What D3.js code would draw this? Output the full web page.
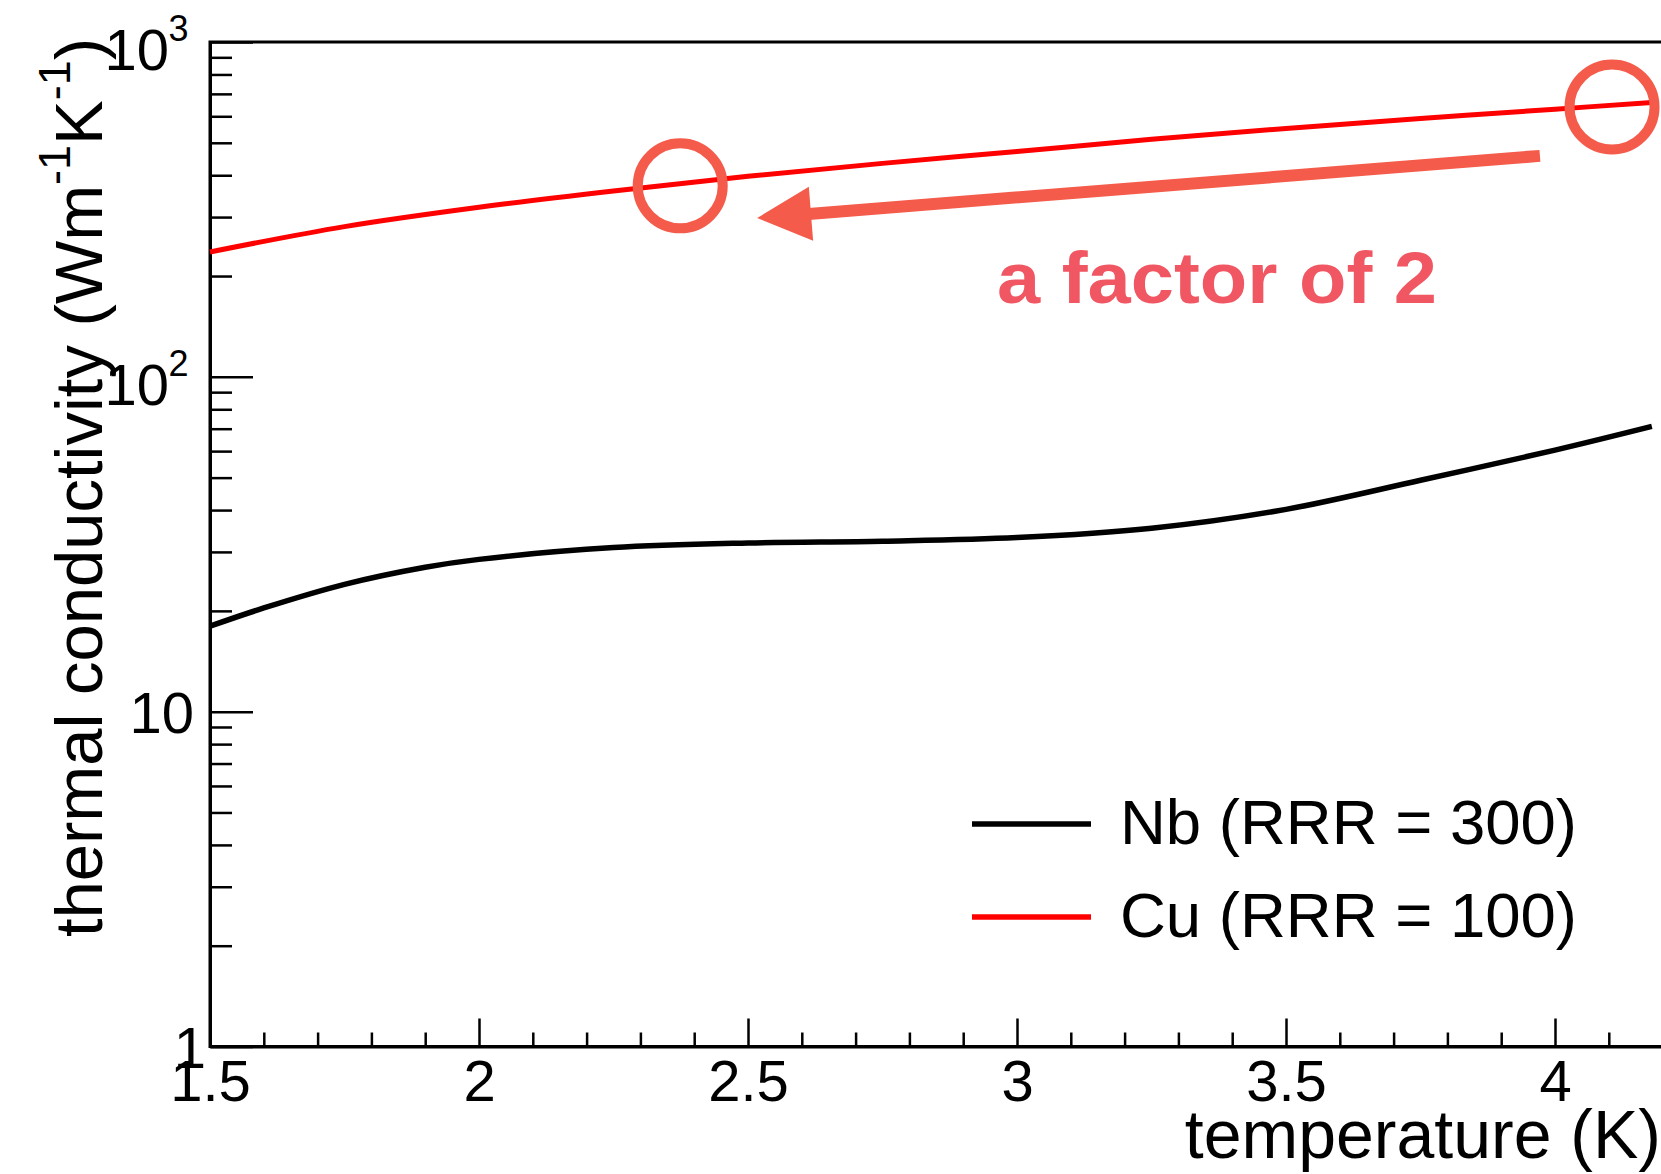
<!DOCTYPE html>
<html>
<head>
<meta charset="utf-8">
<script src="https://cdn.jsdelivr.net/npm/d3@7"></script>
<style>
  html, body { margin: 0; padding: 0; background: #fff; }
  svg { display: block; }
  text { font-family: "Liberation Sans", Arial, Helvetica, sans-serif; fill: #000; }
</style>
</head>
<body>
<svg id="chart" width="1661" height="1174"></svg>
<script>
// Thermal conductivity of Nb (RRR = 300) versus temperature
const nbTemperature  = [1.5, 1.6, 1.75, 1.9, 2.0, 2.25, 2.5, 2.75, 3.0, 3.25, 3.5, 3.75, 4.0, 4.18];
const nbConductivity = [18.0, 20.4, 24.0, 27.0, 28.5, 30.9, 31.9, 32.3, 33.1, 35.3, 40.2, 49.1, 60.4, 71.1];

// Thermal conductivity of Cu (RRR = 100) versus temperature
const cuTemperature  = [1.5, 1.75, 2.0, 2.25, 2.5, 2.75, 3.0, 3.25, 3.5, 3.75, 4.0, 4.18];
const cuConductivity = [236, 281, 321, 359, 397, 434, 471, 512, 552, 591, 630, 660];

// Axis ticks and labels
const xMajorTicks = [1.5, 2, 2.5, 3, 3.5, 4];
const xMajorLabels = ["1.5", "2", "2.5", "3", "3.5", "4"];
const xMinorTicks = [1.6, 1.7, 1.8, 1.9, 2.1, 2.2, 2.3, 2.4, 2.6, 2.7, 2.8, 2.9,
                     3.1, 3.2, 3.3, 3.4, 3.6, 3.7, 3.8, 3.9, 4.1];
const yMajorTicks = [1, 10, 100, 1000];
const yLabelBase = ["1", "10", "10", "10"];
const yLabelExp  = ["", "", "2", "3"];
const yMinorTicks = [2, 3, 4, 5, 6, 7, 8, 9, 20, 30, 40, 50, 60, 70, 80, 90,
                     200, 300, 400, 500, 600, 700, 800, 900];

// Legend entries
const legendLabels = ["Nb (RRR = 300)", "Cu (RRR = 100)"];
const legendColors = ["#000000", "#ff0000"];

// Annotation: the two circled Cu points and the arrow between them
const markTemperature = [2.374, 4.106];
const markConductivity = [372, 640];
const arrowFrom = [3.972, 457];
const arrowTo = [2.517, 298];
const annotationText = "a factor of 2";

const svg = d3.select("#chart");
const plot = { left: 210, right: 1662.6, top: 42, bottom: 1046.5 };

const x = d3.scaleLinear().domain([1.5, 4.2]).range([plot.left, plot.right]);
const y = d3.scaleLog().domain([1, 1000]).range([plot.bottom, plot.top]);

// Frame
svg.append("rect")
  .attr("x", plot.left).attr("y", plot.top)
  .attr("width", plot.right - plot.left).attr("height", plot.bottom - plot.top)
  .attr("fill", "none").attr("stroke", "#000").attr("stroke-width", 3);

// X axis: major and minor ticks pointing into the plot
const xMajorAxis = d3.axisBottom(x).tickValues(xMajorTicks)
  .tickSizeInner(-28).tickSizeOuter(0).tickPadding(13)
  .tickFormat((d, i) => xMajorLabels[i]);
const gx = svg.append("g").attr("transform", `translate(0,${plot.bottom})`).call(xMajorAxis);
gx.select(".domain").attr("stroke-width", 3);
gx.selectAll(".tick line").attr("stroke-width", 2.5);
gx.selectAll(".tick text").attr("font-size", 58).attr("font-family", "Liberation Sans, Arial, sans-serif").attr("fill", "#000");

const xMinorAxis = d3.axisBottom(x).tickValues(xMinorTicks)
  .tickSizeInner(-14).tickSizeOuter(0).tickFormat("");
const gxm = svg.append("g").attr("transform", `translate(0,${plot.bottom})`).call(xMinorAxis);
gxm.select(".domain").remove();
gxm.selectAll(".tick line").attr("stroke-width", 2.5);

// Y axis: major and minor ticks pointing into the plot
const yMajorAxis = d3.axisLeft(y).tickValues(yMajorTicks)
  .tickSizeInner(-43).tickSizeOuter(0).tickFormat("");
const gy = svg.append("g").attr("transform", `translate(${plot.left},0)`).call(yMajorAxis);
gy.select(".domain").attr("stroke-width", 3);
gy.selectAll(".tick line").attr("stroke-width", 2.5);

const yMinorAxis = d3.axisLeft(y).tickValues(yMinorTicks)
  .tickSizeInner(-22).tickSizeOuter(0).tickFormat("");
const gym = svg.append("g").attr("transform", `translate(${plot.left},0)`).call(yMinorAxis);
gym.select(".domain").remove();
gym.selectAll(".tick line").attr("stroke-width", 2.5);

// Y tick labels, powers of ten written with a superscript exponent
yMajorTicks.forEach((v, i) => {
  const ty = y(v);
  if (yLabelExp[i]) {
    svg.append("text").attr("x", 169).attr("y", ty + 28)
      .attr("text-anchor", "end").attr("font-size", 58).text(yLabelBase[i]);
    svg.append("text").attr("x", 168.5).attr("y", ty - 1)
      .attr("text-anchor", "start").attr("font-size", 36).text(yLabelExp[i]);
  } else {
    const ax = yLabelBase[i].length === 1 ? 206 : 194;
    svg.append("text").attr("x", ax).attr("y", ty + 21)
      .attr("text-anchor", "end").attr("font-size", 58).text(yLabelBase[i]);
  }
});

// Axis titles
svg.append("text").attr("x", 1661).attr("y", 1158)
  .attr("text-anchor", "end").attr("font-size", 68).text("temperature (K)");

const yTitle = svg.append("text")
  .attr("transform", "translate(102,38) rotate(-90)")
  .attr("text-anchor", "end").attr("font-size", 67);
yTitle.append("tspan").text("thermal conductivity (Wm");
yTitle.append("tspan").attr("font-size", 45).attr("dy", -32).text("-1");
yTitle.append("tspan").attr("dy", 32).text("K");
yTitle.append("tspan").attr("font-size", 45).attr("dy", -32).text("-1");
yTitle.append("tspan").attr("dy", 32).text(")");

// Curves
const line = d3.line().x(d => x(d[0])).y(d => y(d[1])).curve(d3.curveCatmullRom.alpha(0.5));
const nbData = nbTemperature.map((t, i) => [t, nbConductivity[i]]);
const cuData = cuTemperature.map((t, i) => [t, cuConductivity[i]]);

svg.append("path").datum(nbData).attr("d", line)
  .attr("fill", "none").attr("stroke", legendColors[0]).attr("stroke-width", 5.5);
svg.append("path").datum(cuData).attr("d", line)
  .attr("fill", "none").attr("stroke", legendColors[1]).attr("stroke-width", 5);

// Legend
legendLabels.forEach((label, i) => {
  const ly = 824 + i * 93;
  svg.append("line").attr("x1", 972).attr("x2", 1091).attr("y1", ly).attr("y2", ly)
    .attr("stroke", legendColors[i]).attr("stroke-width", 5.5);
  svg.append("text").attr("x", 1120).attr("y", ly + 20)
    .attr("font-size", 63.5).text(label);
});

// Annotation
const accent = "#f45b4a";
markTemperature.forEach((t, i) => {
  svg.append("circle").attr("cx", x(t)).attr("cy", y(markConductivity[i])).attr("r", 42.5)
    .attr("fill", "none").attr("stroke", accent).attr("stroke-width", 10);
});

const ax0 = x(arrowFrom[0]), ay0 = y(arrowFrom[1]);
const ax1 = x(arrowTo[0]), ay1 = y(arrowTo[1]);
const ang = Math.atan2(ay1 - ay0, ax1 - ax0);
const headLen = 54, headHalf = 27;
const bx = ax1 - headLen * Math.cos(ang), by = ay1 - headLen * Math.sin(ang);
svg.append("line").attr("x1", ax0).attr("y1", ay0).attr("x2", bx + 2 * Math.cos(ang)).attr("y2", by + 2 * Math.sin(ang))
  .attr("stroke", accent).attr("stroke-width", 12);
svg.append("path")
  .attr("d", d3.line()([
    [ax1, ay1],
    [bx + headHalf * Math.sin(ang), by - headHalf * Math.cos(ang)],
    [bx - headHalf * Math.sin(ang), by + headHalf * Math.cos(ang)]
  ]) + "Z")
  .attr("fill", accent);

svg.append("text").attr("x", 997).attr("y", 303)
  .attr("font-size", 72).attr("font-weight", "bold")
  .attr("textLength", 440).attr("lengthAdjust", "spacingAndGlyphs")
  .style("fill", "#f05763").text(annotationText);
</script>
</body>
</html>
